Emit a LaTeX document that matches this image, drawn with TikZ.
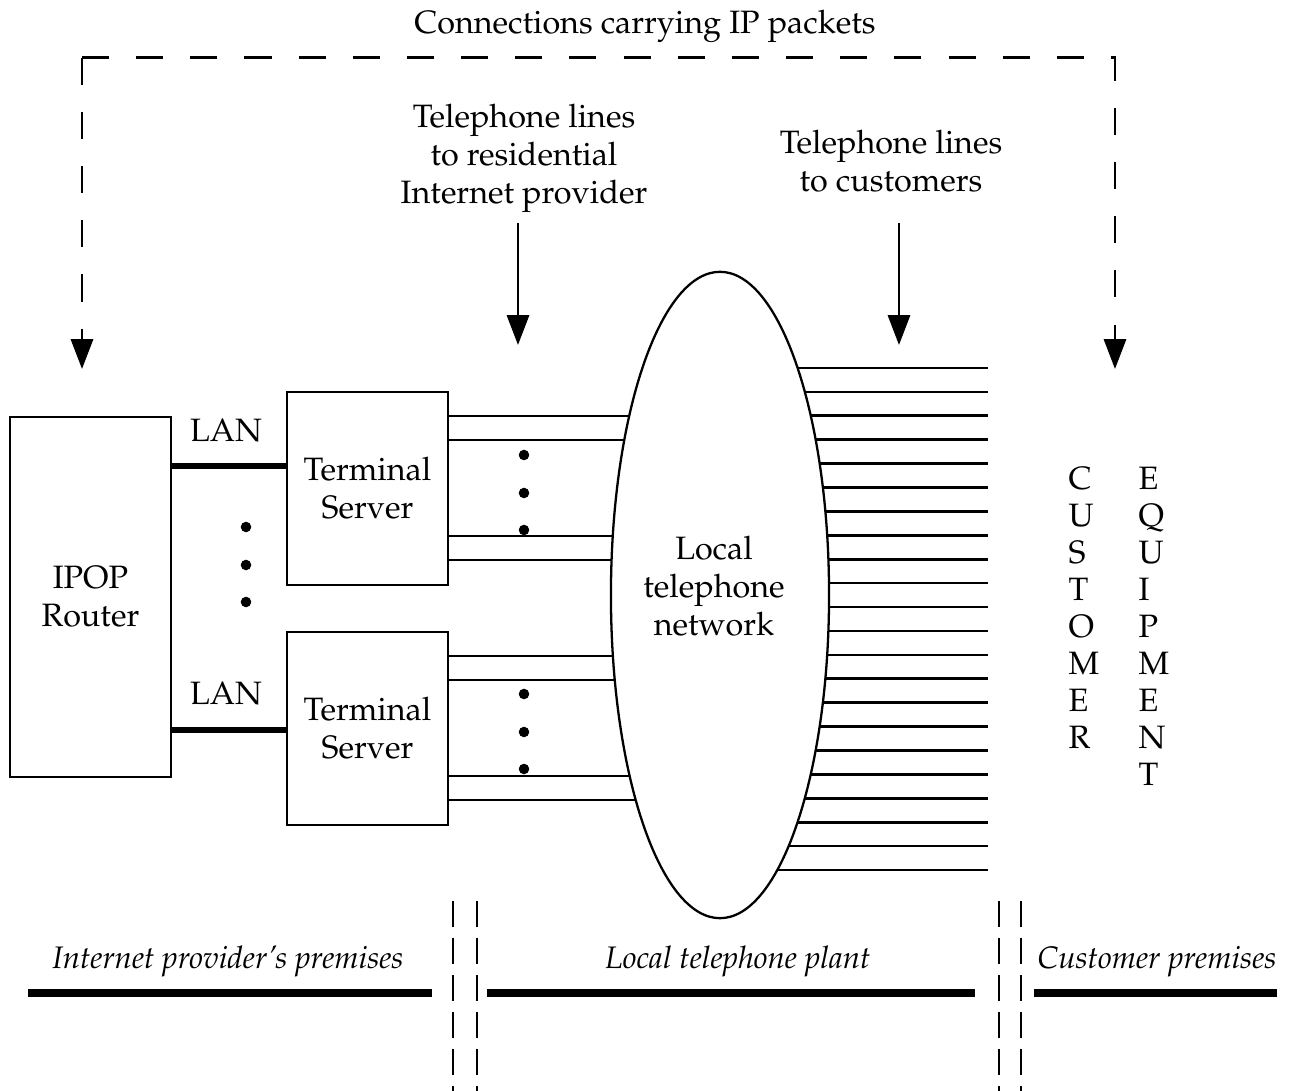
\documentclass[tikz,border=0pt]{standalone}
\usepackage[T1]{fontenc}
\usepackage{mathpazo}
\usepackage{tikz}
\usetikzlibrary{shapes.geometric,arrows.meta,backgrounds}

\begin{document}
\begin{tikzpicture}[x=0.01cm,y=-0.01cm,font=\fontsize{9.2}{10.8}\selectfont]
    \tikzset{
    box/.style={draw,line width=0.6pt,inner sep=0,align=center},
    tl/.style={line width=0.75pt},
    lan/.style={line width=1.6pt},
    ptr/.style={line width=0.75pt,-{Triangle[width=6.3pt,length=8.5pt]}},
    conn/.style={ptr,dash pattern=on 7.7pt off 7.7pt},
    sep/.style={line width=0.6pt,dash pattern=on 7.4pt off 3.1pt},
    prem/.style={line width=2.3pt},
    pl/.style={anchor=base,inner sep=0,font=\fontsize{8.85}{10.8}\selectfont\itshape},
    }
    \useasboundingbox (0,0) rectangle (1293,1091);

    \node[inner sep=0] (ttl) at (645,26) {Connections carrying IP packets};
    \node[align=center] (tlr) at (524,158) {Telephone lines\\to residential\\Internet provider};
    \node[align=center] (tlc) at (891,161) {Telephone lines\\to customers};

    \node[box,minimum width=1.61cm,minimum height=3.6cm] (rt) at (90.5,597) {IPOP\\Router};
    \node[box,minimum width=1.61cm,minimum height=1.93cm] (ts1) at (367.5,488.5) {Terminal\\Server};
    \node[box,minimum width=1.61cm,minimum height=1.93cm] (ts2) at (367.5,728.5) {Terminal\\Server};
    \node[draw,ellipse,line width=0.65pt,fill=white,inner sep=0,
          minimum width=2.18cm,minimum height=6.46cm] (net) at (720,595) {};
    \node[align=center,inner sep=0] (nett) at (714,586) {Local\\telephone\\network};

    \node[align=left,inner sep=0,anchor=north west,font=\fontsize{9.2}{10.55}\selectfont]
        (cust) at (1068,466) {C\\U\\S\\T\\O\\M\\E\\R};
    \node[align=left,inner sep=0,anchor=north west,font=\fontsize{9.2}{10.55}\selectfont]
        (equip) at (1138,466) {E\\Q\\U\\I\\P\\M\\E\\N\\T};

    \coordinate (ipin) at (82,369);
    \coordinate (cein) at (1115,369);
    \coordinate (tip1) at (518,345);
    \coordinate (tip2) at (899,345);
    \coordinate (ce) at (988,595);

    \draw[conn] ([yshift=3.11cm]ipin) -- (ipin);
    \draw[conn] ([yshift=3.11cm]ipin) -| (cein);
    \draw[ptr] ([yshift=1.22cm]tip1) -- (tip1);
    \draw[ptr] ([yshift=1.22cm]tip2) -- (tip2);

    \node[anchor=base,inner sep=0] (lan1) at (226,442) {LAN};
    \node[anchor=base,inner sep=0] (lan2) at (226,705) {LAN};
    \draw[lan] (rt.east |- 0,466) -- (ts1.west |- 0,466);
    \draw[lan] (rt.east |- 0,730) -- (ts2.west |- 0,730);

    \begin{scope}[on background layer]
    \foreach \y in {416,440,536,560}
        \draw[tl] (ts1.east |- 0,\y) -- (net.center |- 0,\y);
    \foreach \y in {656,680,776,800}
        \draw[tl] (ts2.east |- 0,\y) -- (net.center |- 0,\y);
    \foreach \i [evaluate=\i as \y using 368+23.905*\i] in {0,...,21}
        \draw[tl] (net.center |- 0,\y) -- (ce |- 0,\y);
    \end{scope}

    \fill (246,527) circle (1.5pt) (246,565) circle (1.5pt) (246,602) circle (1.5pt);
    \fill (524,455) circle (1.5pt) (524,493) circle (1.5pt) (524,530) circle (1.5pt);
    \fill (524,694) circle (1.5pt) (524,732) circle (1.5pt) (524,769) circle (1.5pt);

    \foreach \x in {453,477,999,1021}
        \draw[sep] (\x,901) -- (\x,1091);

    \node[pl] (pip) at (228,968) {Internet provider's premises};
    \node[pl] (plt) at (738,968) {Local telephone plant};
    \node[pl] (pcu) at (1157,968) {Customer premises};
    \draw[prem] (28,993) -- (432,993);
    \draw[prem] (487,993) -- (975,993);
    \draw[prem] (1034,993) -- (1277,993);

\end{tikzpicture}
\end{document}
